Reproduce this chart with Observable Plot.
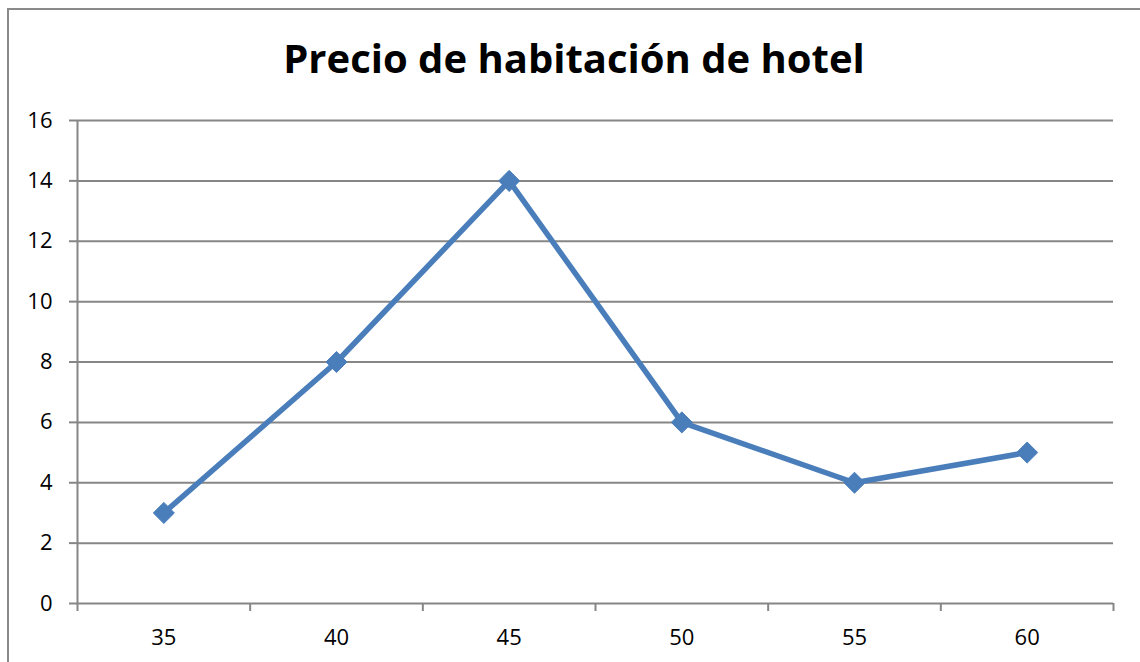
<!DOCTYPE html>
<html>
<head>
<meta charset="utf-8">
<script src="https://cdn.jsdelivr.net/npm/d3@7"></script>
<script src="https://cdn.jsdelivr.net/npm/@observablehq/plot@0.6"></script>
<style>
  html, body { margin: 0; padding: 0; background: #fff; }
  #wrap { position: relative; width: 1140px; height: 662px; overflow: hidden; background: #fff; }
  #frame { position: absolute; left: 7px; top: 8px; width: 1300px; height: 800px; border: 2px solid #8a8a8a; box-sizing: border-box; }
  #title { position: absolute; left: 0; top: 33px; width: 1148px; text-align: center; font-family: "Open Sans", sans-serif; font-weight: 700; font-size: 40px; line-height: 50px; color: #000; white-space: nowrap; }
  #chart { position: absolute; left: 0; top: 0; }
</style>
</head>
<body>
<div id="wrap">
  <div id="frame"></div>
  <div id="chart"></div>
  <div id="title">Precio de habitación de hotel</div>
</div>
<script>
const title = "Precio de habitación de hotel";
const categories = [35, 40, 45, 50, 55, 60];
const values = [3, 8, 14, 6, 4, 5];
const yTicks = [0, 2, 4, 6, 8, 10, 12, 14, 16];

const step = categories[1] - categories[0];
const boundaries = [...categories.map(c => c - step / 2), categories[categories.length - 1] + step / 2];
const data = categories.map((c, i) => ({x: c, y: values[i]}));

const lineColor = "#4a7ebb";
const gridColor = "#868686";
const font = "'Open Sans', sans-serif";

document.getElementById("title").textContent = title;

const chart = Plot.plot({
  width: 1140,
  height: 662,
  marginLeft: 77,
  marginRight: 27,
  marginTop: 120,
  marginBottom: 59,
  style: {fontFamily: font, fontSize: "22px", color: "#000", background: "transparent"},
  x: {type: "linear", domain: [boundaries[0], boundaries[boundaries.length - 1]]},
  y: {domain: [0, 16]},
  marks: [
    Plot.gridY(yTicks, {stroke: gridColor, strokeOpacity: 1, strokeWidth: 2}),
    Plot.ruleX([boundaries[0]], {stroke: gridColor, strokeWidth: 2, y1: 0, y2: 16}),
    Plot.axisY(yTicks, {tickSize: 8, tickPadding: 17, stroke: gridColor, strokeWidth: 2, label: null, fill: "#000", fontSize: 22}),
    Plot.axisX(boundaries, {tickSize: 8, tickFormat: () => "", stroke: gridColor, strokeWidth: 2, label: null}),
    Plot.axisX(categories, {tickSize: 0, tickPadding: 26, label: null, fill: "#000", fontSize: 22}),
    Plot.line(data, {x: "x", y: "y", stroke: lineColor, strokeWidth: 5.5, strokeLinejoin: "round"}),
    Plot.dot(data, {x: "x", y: "y", symbol: "diamond2", r: 9.5, fill: lineColor, stroke: lineColor, strokeWidth: 1})
  ]
});
document.getElementById("chart").appendChild(chart);
</script>
</body>
</html>
